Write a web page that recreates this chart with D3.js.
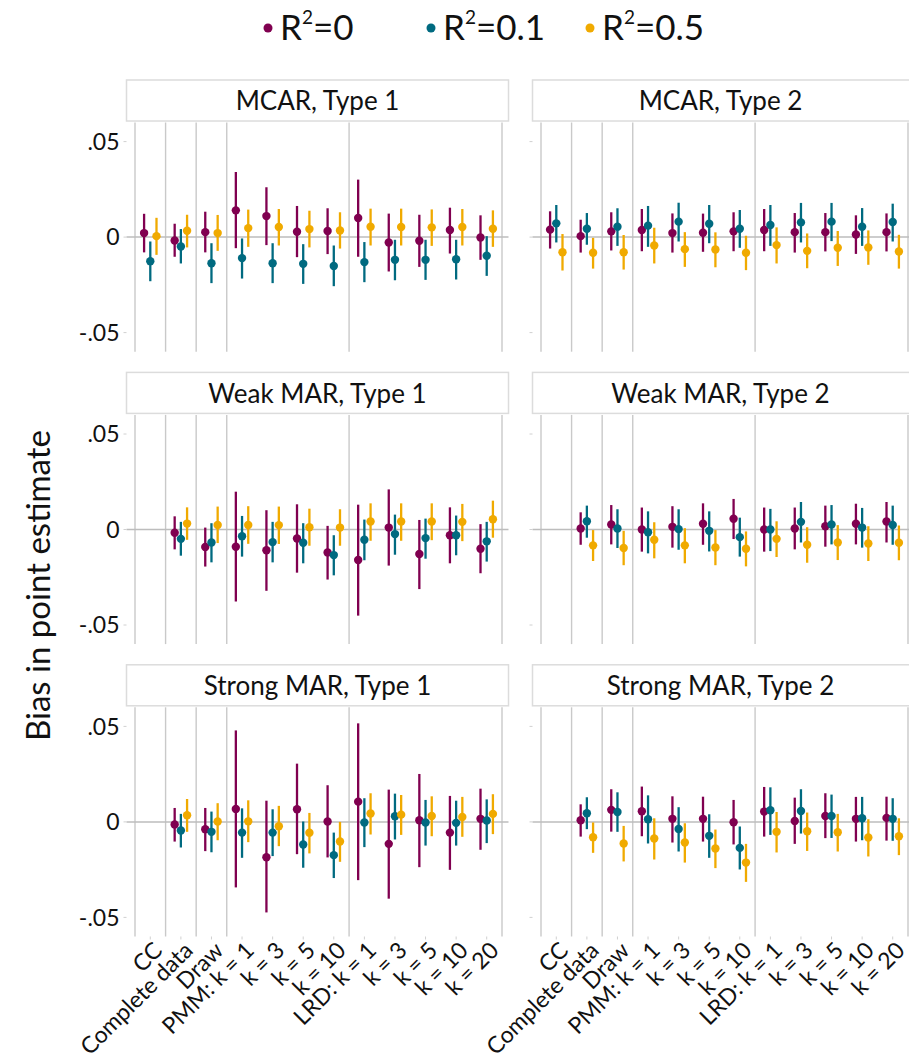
<!DOCTYPE html>
<meta charset="utf-8">
<style>
  body { margin: 0; background: #fff; }
  svg { display: block; }
</style>
<body>
<script src="https://cdn.jsdelivr.net/npm/d3@7"></script>
<script>
// ---- data ----
const catKeys = ["CC", "Complete", "Draw", "PMM1", "PMM3", "PMM5", "PMM10", "LRD1", "LRD3", "LRD5", "LRD10", "LRD20"];
const catLabels = ["CC", "Complete data", "Draw", "PMM: k = 1", "k = 3", "k = 5", "k = 10", "LRD: k = 1", "k = 3", "k = 5", "k = 10", "k = 20"];
const separators = [0, 1, 2, 3, 7, 12]; // group boundaries (category index)
const seriesNames = ["0", "0.1", "0.5"]; // R² values
const seriesColors = ["#800050", "#006A80", "#F0AA00"];
const panelTitles = ["MCAR, Type 1", "MCAR, Type 2", "Weak MAR, Type 1", "Weak MAR, Type 2", "Strong MAR, Type 1", "Strong MAR, Type 2"];
const yTicks = [-0.05, 0, 0.05];
const yTickLabels = ["-.05", "0", ".05"];

// rows: R²=0, R²=0.1, R²=0.5 ; columns follow catKeys
const mcar1Est = [
  [0.0021, -0.0018, 0.0026, 0.0140, 0.0110, 0.0028, 0.0032, 0.0100, -0.0028, -0.0019, 0.0037, -0.0002],
  [-0.0126, -0.0049, -0.0137, -0.0110, -0.0137, -0.0140, -0.0151, -0.0131, -0.0119, -0.0119, -0.0116, -0.0098],
  [0.0005, 0.0033, 0.0021, 0.0047, 0.0053, 0.0042, 0.0035, 0.0054, 0.0053, 0.0051, 0.0053, 0.0044]];
const mcar1Lo = [
  [-0.0080, -0.0103, -0.0080, -0.0058, -0.0042, -0.0105, -0.0089, -0.0103, -0.0180, -0.0156, -0.0086, -0.0119],
  [-0.0231, -0.0138, -0.0241, -0.0217, -0.0241, -0.0245, -0.0257, -0.0236, -0.0226, -0.0224, -0.0222, -0.0203],
  [-0.0093, -0.0054, -0.0072, -0.0051, -0.0044, -0.0054, -0.0060, -0.0044, -0.0044, -0.0046, -0.0044, -0.0051]];
const mcar1Hi = [
  [0.0122, 0.0070, 0.0133, 0.0341, 0.0261, 0.0163, 0.0151, 0.0301, 0.0123, 0.0117, 0.0154, 0.0114],
  [-0.0023, 0.0042, -0.0032, -0.0007, -0.0032, -0.0037, -0.0044, -0.0026, -0.0014, -0.0014, -0.0014, 0.0005],
  [0.0101, 0.0117, 0.0116, 0.0144, 0.0147, 0.0138, 0.0130, 0.0149, 0.0149, 0.0145, 0.0147, 0.0140]];

const mcar2Est = [
  [0.0039, 0.0005, 0.0030, 0.0037, 0.0021, 0.0023, 0.0030, 0.0037, 0.0026, 0.0026, 0.0014, 0.0026],
  [0.0072, 0.0044, 0.0054, 0.0060, 0.0081, 0.0070, 0.0044, 0.0063, 0.0077, 0.0081, 0.0054, 0.0079],
  [-0.0079, -0.0082, -0.0079, -0.0044, -0.0063, -0.0065, -0.0082, -0.0042, -0.0072, -0.0056, -0.0054, -0.0075]];
const mcar2Lo = [
  [-0.0060, -0.0081, -0.0070, -0.0074, -0.0081, -0.0077, -0.0074, -0.0074, -0.0081, -0.0075, -0.0088, -0.0075],
  [-0.0028, -0.0040, -0.0046, -0.0051, -0.0023, -0.0032, -0.0056, -0.0046, -0.0028, -0.0021, -0.0046, -0.0023],
  [-0.0175, -0.0165, -0.0170, -0.0138, -0.0156, -0.0158, -0.0173, -0.0138, -0.0163, -0.0151, -0.0145, -0.0165]];
const mcar2Hi = [
  [0.0135, 0.0091, 0.0130, 0.0147, 0.0124, 0.0123, 0.0130, 0.0147, 0.0126, 0.0126, 0.0114, 0.0124],
  [0.0168, 0.0126, 0.0151, 0.0163, 0.0180, 0.0168, 0.0142, 0.0168, 0.0179, 0.0179, 0.0152, 0.0175],
  [0.0016, -0.0004, 0.0011, 0.0049, 0.0026, 0.0025, 0.0007, 0.0051, 0.0019, 0.0032, 0.0035, 0.0012]];

const weak1Est = [
  [null, -0.0017, -0.0092, -0.0090, -0.0109, -0.0047, -0.0120, -0.0160, 0.0010, -0.0128, -0.0030, -0.0101],
  [null, -0.0049, -0.0068, -0.0035, -0.0066, -0.0069, -0.0134, -0.0054, -0.0024, -0.0045, -0.0030, -0.0062],
  [null, 0.0031, 0.0024, 0.0024, 0.0023, 0.0012, 0.0010, 0.0042, 0.0042, 0.0042, 0.0040, 0.0054]];
const weak1Lo = [
  [null, -0.0104, -0.0194, -0.0377, -0.0321, -0.0226, -0.0262, -0.0451, -0.0189, -0.0312, -0.0177, -0.0229],
  [null, -0.0137, -0.0172, -0.0142, -0.0172, -0.0177, -0.0240, -0.0161, -0.0132, -0.0153, -0.0135, -0.0168],
  [null, -0.0054, -0.0071, -0.0075, -0.0076, -0.0085, -0.0085, -0.0059, -0.0059, -0.0056, -0.0061, -0.0043]];
const weak1Hi = [
  [null, 0.0069, 0.0010, 0.0198, 0.0101, 0.0132, 0.0019, 0.0130, 0.0210, 0.0050, 0.0116, 0.0028],
  [null, 0.0040, 0.0033, 0.0071, 0.0040, 0.0033, -0.0030, 0.0052, 0.0078, 0.0057, 0.0073, 0.0040],
  [null, 0.0116, 0.0120, 0.0122, 0.0120, 0.0109, 0.0106, 0.0137, 0.0137, 0.0137, 0.0134, 0.0151]];

const weak2Est = [
  [null, 0.0005, 0.0026, 0.0000, 0.0014, 0.0030, 0.0056, 0.0000, 0.0005, 0.0017, 0.0030, 0.0042],
  [null, 0.0043, 0.0005, -0.0014, 0.0002, -0.0007, -0.0040, 0.0000, 0.0040, 0.0026, 0.0010, 0.0024],
  [null, -0.0083, -0.0097, -0.0054, -0.0083, -0.0094, -0.0101, -0.0049, -0.0080, -0.0068, -0.0073, -0.0069]];
const weak2Lo = [
  [null, -0.0080, -0.0078, -0.0116, -0.0095, -0.0080, -0.0050, -0.0116, -0.0104, -0.0090, -0.0078, -0.0068],
  [null, -0.0043, -0.0097, -0.0125, -0.0106, -0.0115, -0.0142, -0.0113, -0.0068, -0.0078, -0.0095, -0.0080],
  [null, -0.0165, -0.0187, -0.0151, -0.0177, -0.0187, -0.0193, -0.0144, -0.0174, -0.0160, -0.0165, -0.0161]];
const weak2Hi = [
  [null, 0.0090, 0.0128, 0.0115, 0.0122, 0.0137, 0.0160, 0.0115, 0.0115, 0.0125, 0.0135, 0.0144],
  [null, 0.0125, 0.0106, 0.0095, 0.0106, 0.0095, 0.0062, 0.0108, 0.0144, 0.0128, 0.0113, 0.0125],
  [null, -0.0003, -0.0007, 0.0038, 0.0007, -0.0003, -0.0010, 0.0043, 0.0012, 0.0023, 0.0017, 0.0021]];

const strong1Est = [
  [null, -0.0014, -0.0038, 0.0068, -0.0185, 0.0066, 0.0002, 0.0106, -0.0115, 0.0009, -0.0056, 0.0016],
  [null, -0.0045, -0.0052, -0.0056, -0.0056, -0.0118, -0.0174, -0.0003, 0.0030, -0.0003, -0.0005, 0.0007],
  [null, 0.0035, 0.0002, 0.0003, -0.0023, -0.0057, -0.0103, 0.0044, 0.0038, 0.0031, 0.0026, 0.0042]];
const strong1Lo = [
  [null, -0.0103, -0.0153, -0.0343, -0.0474, -0.0169, -0.0186, -0.0305, -0.0402, -0.0237, -0.0251, -0.0146],
  [null, -0.0134, -0.0159, -0.0188, -0.0179, -0.0240, -0.0294, -0.0132, -0.0092, -0.0124, -0.0124, -0.0111],
  [null, -0.0052, -0.0096, -0.0106, -0.0127, -0.0165, -0.0209, -0.0066, -0.0068, -0.0075, -0.0078, -0.0064]];
const strong1Hi = [
  [null, 0.0073, 0.0073, 0.0479, 0.0111, 0.0305, 0.0192, 0.0516, 0.0169, 0.0251, 0.0136, 0.0174],
  [null, 0.0042, 0.0054, 0.0071, 0.0066, 0.0002, -0.0056, 0.0124, 0.0148, 0.0115, 0.0111, 0.0118],
  [null, 0.0120, 0.0098, 0.0113, 0.0084, 0.0047, 0.0000, 0.0150, 0.0141, 0.0134, 0.0131, 0.0145]];

const strong2Est = [
  [null, 0.0009, 0.0063, 0.0056, 0.0016, 0.0016, -0.0002, 0.0054, 0.0005, 0.0031, 0.0016, 0.0021],
  [null, 0.0045, 0.0052, 0.0014, -0.0037, -0.0073, -0.0136, 0.0061, 0.0057, 0.0031, 0.0019, 0.0016],
  [null, -0.0080, -0.0113, -0.0087, -0.0108, -0.0139, -0.0213, -0.0052, -0.0049, -0.0054, -0.0082, -0.0075]];
const strong2Lo = [
  [null, -0.0077, -0.0051, -0.0075, -0.0108, -0.0103, -0.0118, -0.0077, -0.0115, -0.0085, -0.0103, -0.0098],
  [null, -0.0038, -0.0052, -0.0113, -0.0155, -0.0188, -0.0249, -0.0068, -0.0061, -0.0084, -0.0096, -0.0099],
  [null, -0.0162, -0.0207, -0.0197, -0.0213, -0.0242, -0.0314, -0.0160, -0.0152, -0.0155, -0.0181, -0.0174]];
const strong2Hi = [
  [null, 0.0092, 0.0171, 0.0185, 0.0134, 0.0132, 0.0115, 0.0183, 0.0127, 0.0150, 0.0131, 0.0132],
  [null, 0.0129, 0.0155, 0.0139, 0.0077, 0.0040, -0.0024, 0.0181, 0.0171, 0.0143, 0.0131, 0.0124],
  [null, -0.0003, -0.0021, 0.0019, -0.0007, -0.0040, -0.0115, 0.0052, 0.0049, 0.0042, 0.0014, 0.0019]];

const panelData = [
  [mcar1Est, mcar1Lo, mcar1Hi], [mcar2Est, mcar2Lo, mcar2Hi],
  [weak1Est, weak1Lo, weak1Hi], [weak2Est, weak2Lo, weak2Hi],
  [strong1Est, strong1Lo, strong1Hi], [strong2Est, strong2Lo, strong2Hi]];

// ---- layout ----
const width = 909, height = 1062;
const colX = [126.5, 532.5];
const rowY = [122.5, 414.9, 707.3];
const panelW = 382, panelH = 229.2;
const stripH = 41;
const dodge = 6.2;
const gray = "#c9c9c9";

const svg = d3.select("body").append("svg")
    .attr("width", width)
    .attr("height", height)
    .style("font-family", "Lato, 'Open Sans', sans-serif");

const x = d3.scaleBand().domain(catKeys).range([8.5, 375.5]);
const y = d3.scaleLinear().domain([-0.06, 0.06]).range([panelH, 0]);
const color = d3.scaleOrdinal(d3.range(3), seriesColors);
const sepX = i => i < catKeys.length ? x(catKeys[i]) : x(catKeys[catKeys.length - 1]) + x.bandwidth();

panelTitles.forEach((title, p) => {
  const col = p % 2, row = Math.floor(p / 2);
  const g = svg.append("g").attr("transform", `translate(${colX[col]},${rowY[row]})`);

  // strip
  g.append("rect")
      .attr("x", 0).attr("y", -stripH - 1.5)
      .attr("width", panelW).attr("height", stripH)
      .attr("fill", "#fff").attr("stroke", "#dcdcdc").attr("stroke-width", 1.5);
  g.append("text")
      .attr("x", panelW / 2 - (col ? 3 : 0)).attr("y", -stripH / 2 - 1)
      .attr("dy", "0.36em")
      .attr("text-anchor", "middle")
      .attr("font-size", 26)
      .attr("fill", "#111")
      .text(title);

  // group separators
  g.selectAll("line.sep")
    .data(separators)
    .join("line")
      .attr("class", "sep")
      .attr("x1", sepX).attr("x2", sepX)
      .attr("y1", 0).attr("y2", panelH)
      .attr("stroke", gray).attr("stroke-width", 1.4);

  // zero line
  g.append("line")
      .attr("x1", 0).attr("x2", panelW)
      .attr("y1", y(0)).attr("y2", y(0))
      .attr("stroke", "#bdbdbd").attr("stroke-width", 1.5);

  // y ticks
  g.selectAll("line.ytick")
    .data(yTicks)
    .join("line")
      .attr("class", "ytick")
      .attr("x1", -3).attr("x2", 0)
      .attr("y1", d => y(d)).attr("y2", d => y(d))
      .attr("stroke", "#d0d0d0");

  if (col === 0) {
    g.selectAll("text.ylab")
      .data(yTicks)
      .join("text")
        .attr("class", "ylab")
        .attr("x", -7).attr("y", d => y(d))
        .attr("dy", "0.36em")
        .attr("text-anchor", "end")
        .attr("font-size", 23)
        .attr("fill", "#111")
        .text((d, i) => yTickLabels[i]);
  }

  // error bars + points
  const [est, lo, hi] = panelData[p];
  const pts = [];
  est.forEach((vals, s) => vals.forEach((v, c) => {
    if (v !== null) pts.push({s, c, v, lo: lo[s][c], hi: hi[s][c]});
  }));
  const px = d => x(catKeys[d.c]) + x.bandwidth() / 2 + (d.s - 1) * dodge;

  g.selectAll("line.bar")
    .data(pts)
    .join("line")
      .attr("class", "bar")
      .attr("x1", px).attr("x2", px)
      .attr("y1", d => y(d.lo)).attr("y2", d => y(d.hi))
      .attr("stroke", d => color(d.s))
      .attr("stroke-width", 2.3);

  g.selectAll("circle")
    .data(pts)
    .join("circle")
      .attr("cx", px).attr("cy", d => y(d.v))
      .attr("r", 4.2)
      .attr("fill", d => color(d.s));

  // x labels on bottom row
  if (row === 2) {
    g.selectAll("line.xtick")
      .data(catKeys)
      .join("line")
        .attr("class", "xtick")
        .attr("x1", d => x(d) + x.bandwidth() / 2).attr("x2", d => x(d) + x.bandwidth() / 2)
        .attr("y1", panelH).attr("y2", panelH + 3)
        .attr("stroke", "#d0d0d0");
    g.selectAll("text.xlab")
      .data(catKeys)
      .join("text")
        .attr("class", "xlab")
        .attr("transform", d => `translate(${x(d) + x.bandwidth() / 2 + 2},${panelH + 4}) rotate(-45)`)
        .attr("dy", "0.7em")
        .attr("text-anchor", "end")
        .attr("font-size", 23)
        .attr("fill", "#111")
        .text((d, i) => catLabels[i]);
  }
});

// y axis title
svg.append("text")
    .attr("transform", `translate(38,${rowY[1] + panelH / 2 + 56}) rotate(-90)`)
    .attr("dy", "0.36em")
    .attr("text-anchor", "middle")
    .attr("font-size", 33)
    .attr("fill", "#111")
    .text("Bias in point estimate");

// legend
const legendX = [268, 431, 590];
const leg = svg.append("g").selectAll("g")
  .data(seriesNames)
  .join("g")
    .attr("transform", (d, i) => `translate(${legendX[i]},28)`);
leg.append("circle").attr("r", 4.5).attr("fill", (d, i) => color(i));
const lt = leg.append("text")
    .attr("x", 12).attr("y", 12)
    .attr("font-size", 35)
    .attr("fill", "#111");
lt.append("tspan").text("R");
lt.append("tspan").attr("font-size", 19).attr("dy", -16).text("2");
lt.append("tspan").attr("dy", 16).text(d => "=" + d);
</script>
</body>
